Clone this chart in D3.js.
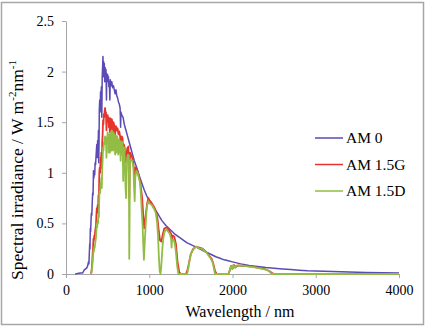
<!DOCTYPE html>
<html>
<head>
<meta charset="utf-8">
<script src="https://cdn.jsdelivr.net/npm/d3@7"></script>
</head>
<body style="margin:0; background:#fff">
<div id="chart"></div>
<script>
// wavelength (nm), spectral irradiance (W m-2 nm-1)
var am0 = [
  [110,0],[140,0.005],[170,0.01],[200,0.01],[220,0.04],[235,0.05],[250,0.06],[260,0.08],[270,0.12],[275,0.1],
  [280,0.2],[285,0.3],[288,0.25],[292,0.45],[296,0.42],[300,0.52],[305,0.6],[310,0.58],[315,0.7],[320,0.8],
  [325,0.78],[330,1.02],[335,0.95],[340,1.0],[345,0.98],[350,1.1],[355,1.08],[360,1.15],[365,1.22],[370,1.28],
  [375,1.15],[380,1.32],[385,1.2],[390,1.42],[393,1.1],[397,1.3],[400,1.62],[405,1.72],[410,1.6],[415,1.8],
  [420,1.75],[425,1.85],[430,1.55],[435,1.95],[440,2.05],[444,2.15],[448,1.95],[452,2.1],[456,1.98],[460,2.08],
  [465,1.9],[470,2.04],[475,1.96],[480,2.02],[486,1.72],[490,1.98],[495,1.92],[500,1.97],[505,1.9],[510,1.95],
  [515,1.85],[520,1.9],[527,1.72],[532,1.92],[540,1.86],[550,1.9],[560,1.84],[570,1.86],[580,1.82],[590,1.78],
  [600,1.82],[610,1.76],[620,1.74],[630,1.7],[640,1.68],[650,1.64],[656,1.45],[660,1.6],[670,1.57],[685,1.55],
  [700,1.48],[720,1.42],[740,1.36],[760,1.3],[780,1.24],[800,1.18],[820,1.12],[850,1.05],[880,0.97],[910,0.9],
  [940,0.83],[970,0.77],[1000,0.73],[1050,0.66],[1100,0.6],[1150,0.53],[1200,0.48],[1250,0.44],[1300,0.4],
  [1350,0.37],[1400,0.34],[1450,0.31],[1500,0.29],[1550,0.27],[1600,0.25],[1650,0.23],[1700,0.21],[1750,0.19],
  [1800,0.17],[1850,0.155],[1900,0.14],[1950,0.13],[2000,0.12],[2100,0.1],[2200,0.085],[2300,0.075],[2400,0.065],
  [2500,0.057],[2600,0.05],[2700,0.044],[2800,0.038],[2900,0.033],[3000,0.03],[3200,0.024],[3400,0.019],
  [3600,0.015],[3800,0.012],[4000,0.01]
];

var am15g = [
  [300,0],[305,0.02],[310,0.06],[315,0.12],[320,0.2],[325,0.26],[330,0.35],[335,0.33],[340,0.38],[345,0.37],
  [350,0.42],[355,0.45],[360,0.48],[365,0.58],[370,0.65],[375,0.6],[380,0.68],[385,0.64],[390,0.78],[395,0.72],
  [400,1.0],[405,1.05],[410,1.0],[415,1.15],[420,1.12],[425,1.2],[430,1.05],[435,1.3],[440,1.38],[445,1.52],
  [450,1.48],[455,1.58],[460,1.55],[465,1.62],[470,1.64],[475,1.56],[480,1.6],[486,1.42],[490,1.55],[495,1.5],
  [500,1.57],[505,1.5],[510,1.55],[515,1.45],[520,1.52],[527,1.4],[532,1.54],[540,1.5],[545,1.42],[550,1.53],
  [560,1.48],[565,1.4],[570,1.5],[580,1.47],[590,1.38],[600,1.46],[610,1.42],[620,1.44],[630,1.38],[640,1.41],
  [650,1.36],[656,1.25],[660,1.35],[670,1.36],[680,1.34],[687,1.1],[695,1.28],[705,1.25],[715,1.1],[725,1.15],
  [735,1.24],[750,1.26],[760,0.75],[765,1.0],[770,1.2],[785,1.17],[800,1.14],[815,1.05],[825,0.98],[835,1.05],
  [850,1.04],[870,0.98],[890,0.92],[900,0.85],[915,0.75],[930,0.55],[940,0.45],[950,0.52],[960,0.6],[975,0.7],
  [990,0.75],[1000,0.73],[1030,0.7],[1060,0.66],[1080,0.62],[1100,0.54],[1115,0.42],[1130,0.33],[1145,0.32],
  [1160,0.38],[1180,0.45],[1210,0.46],[1240,0.43],[1265,0.39],[1272,0.33],[1280,0.38],[1300,0.37],[1320,0.3],
  [1340,0.12],[1360,0.02],[1380,0],[1440,0],[1460,0.04],[1480,0.12],[1500,0.2],[1530,0.25],[1560,0.27],
  [1600,0.26],[1640,0.25],[1680,0.22],[1720,0.18],[1750,0.15],[1770,0.1],[1790,0.03],[1810,0],[1950,0],
  [1965,0.03],[1985,0.08],[2000,0.05],[2015,0.09],[2040,0.07],[2070,0.085],[2100,0.08],[2150,0.082],
  [2200,0.075],[2250,0.07],[2300,0.062],[2350,0.055],[2400,0.045],[2440,0.03],[2470,0.012],[2500,0],
  [3000,0],[4000,0]
];

var am15d = [
  [300,0],[305,0.01],[310,0.03],[315,0.07],[320,0.12],[325,0.17],[330,0.24],[335,0.22],[340,0.27],[345,0.26],
  [350,0.3],[355,0.33],[360,0.36],[365,0.43],[370,0.5],[375,0.46],[380,0.53],[385,0.5],[390,0.6],[395,0.56],
  [400,0.78],[405,0.82],[410,0.8],[415,0.9],[420,0.88],[425,0.95],[430,0.85],[435,1.05],[440,1.12],[445,1.25],
  [450,1.22],[455,1.3],[460,1.28],[465,1.34],[470,1.36],[475,1.3],[480,1.35],[486,1.15],[490,1.34],[495,1.3],
  [500,1.4],[505,1.33],[510,1.38],[512,1.2],[515,1.3],[520,1.36],[527,1.2],[532,1.4],[540,1.38],[545,1.22],
  [550,1.42],[555,1.32],[560,1.38],[565,1.22],[570,1.4],[575,1.28],[580,1.38],[590,1.18],[595,1.3],[600,1.37],
  [605,1.2],[610,1.34],[615,1.36],[620,1.3],[628,1.18],[635,1.33],[640,1.2],[645,1.32],[650,1.28],[656,1.12],
  [660,1.3],[665,1.18],[670,1.31],[675,1.28],[680,1.3],[687,0.92],[692,1.2],[700,1.25],[708,1.1],[715,0.85],
  [722,0.75],[728,0.98],[735,1.15],[745,1.18],[755,1.17],[760,0.15],[764,0.55],[768,1.1],[780,1.13],[795,1.12],
  [810,1.05],[818,0.85],[825,0.72],[832,0.95],[845,1.02],[860,1.0],[875,0.95],[890,0.9],[900,0.78],[910,0.62],
  [920,0.48],[928,0.3],[936,0.14],[945,0.3],[955,0.45],[965,0.6],[975,0.68],[990,0.72],[1000,0.7],[1020,0.69],
  [1040,0.67],[1060,0.64],[1080,0.6],[1095,0.5],[1105,0.38],[1115,0.18],[1125,0.03],[1135,0],[1142,0.05],
  [1150,0.15],[1160,0.28],[1170,0.36],[1185,0.42],[1205,0.44],[1225,0.42],[1245,0.4],[1262,0.35],[1268,0.26],
  [1275,0.34],[1290,0.34],[1305,0.31],[1320,0.22],[1335,0.08],[1350,0],[1455,0],[1470,0.06],[1485,0.14],
  [1500,0.2],[1520,0.23],[1545,0.26],[1570,0.27],[1600,0.25],[1630,0.25],[1660,0.23],[1690,0.21],[1715,0.18],
  [1740,0.15],[1760,0.12],[1775,0.06],[1790,0],[1955,0],[1968,0.04],[1980,0.08],[1995,0.05],[2010,0.09],
  [2030,0.06],[2055,0.085],[2080,0.08],[2120,0.082],[2180,0.075],[2240,0.07],[2300,0.06],[2360,0.05],
  [2410,0.042],[2440,0.03],[2460,0.01],[2480,0],[3000,0],[4000,0]
];

var seriesNames = ["AM 0", "AM 1.5G", "AM 1.5D"];
var seriesColors = ["#5a4bb5", "#e5352c", "#92bd45"];
var xTicks = [0, 1000, 2000, 3000, 4000];
var yTicks = [0, 0.5, 1, 1.5, 2, 2.5];

var serif = "'Liberation Serif', 'Times New Roman', serif";
var axisGray = "#a6a6a6";

var margin = {top: 21, right: 30, bottom: 53, left: 66},
    width = 429 - margin.left - margin.right,
    height = 327 - margin.top - margin.bottom;

var root = d3.select("#chart").append("svg")
    .attr("width", 429)
    .attr("height", 327);

// outer frame
root.append("rect")
    .attr("x", 1.5).attr("y", 2.5)
    .attr("width", 422).attr("height", 322)
    .style("fill", "#fff")
    .style("stroke", axisGray)
    .style("stroke-width", 1.5);

var svg = root.append("g")
    .attr("transform", "translate(" + margin.left + "," + margin.top + ")");

var x = d3.scaleLinear().domain([0, 4000]).range([0, width]);
var y = d3.scaleLinear().domain([0, 2.5]).range([height, 0]);

var xAxis = svg.append("g")
    .attr("transform", "translate(0," + height + ")")
    .call(d3.axisBottom(x).tickValues(xTicks).tickSize(4).tickSizeOuter(0).tickPadding(7).tickFormat(d => d));

var yAxis = svg.append("g")
    .call(d3.axisLeft(y).tickValues(yTicks).tickSize(4).tickSizeOuter(0).tickPadding(8).tickFormat(d3.format("")));

[xAxis, yAxis].forEach(function(a) {
  a.selectAll("path, line").style("stroke", axisGray);
  a.selectAll("text")
      .style("font-family", serif)
      .style("font-size", "14px")
      .style("fill", "#000");
});

var line = d3.line()
    .x(d => x(d[0]))
    .y(d => y(d[1]));

[am0, am15g, am15d].forEach(function(s, i) {
  svg.append("path")
      .datum(s)
      .attr("d", line)
      .style("fill", "none")
      .style("stroke", seriesColors[i])
      .style("stroke-width", i == 0 ? 1.5 : 1.8)
      .style("stroke-linejoin", "round");
});

// axis titles
root.append("text")
    .attr("x", 240)
    .attr("y", 317)
    .style("text-anchor", "middle")
    .style("font-family", serif)
    .style("font-size", "16px")
    .text("Wavelength / nm");

var yt = root.append("text")
    .attr("transform", "translate(23,170) rotate(-90)")
    .style("text-anchor", "middle")
    .style("font-family", serif)
    .style("font-size", "17.5px");
yt.append("tspan").text("Spectral irradiance / W m");
yt.append("tspan").attr("dy", -7).style("font-size", "11px").text("-2");
yt.append("tspan").attr("dy", 7).text("nm");
yt.append("tspan").attr("dy", -7).style("font-size", "11px").text("-1");

// legend
var legend = root.selectAll(".legend")
    .data(seriesNames)
  .enter().append("g")
    .attr("class", "legend")
    .attr("transform", (d, i) => "translate(315," + (138 + i * 26.5) + ")");

legend.append("line")
    .attr("x1", 0).attr("x2", 28)
    .style("stroke", (d, i) => seriesColors[i])
    .style("stroke-width", 1.5);

legend.append("text")
    .attr("x", 31)
    .attr("dy", "0.35em")
    .style("font-family", serif)
    .style("font-size", "15.5px")
    .text(d => d);
</script>
</body>
</html>
